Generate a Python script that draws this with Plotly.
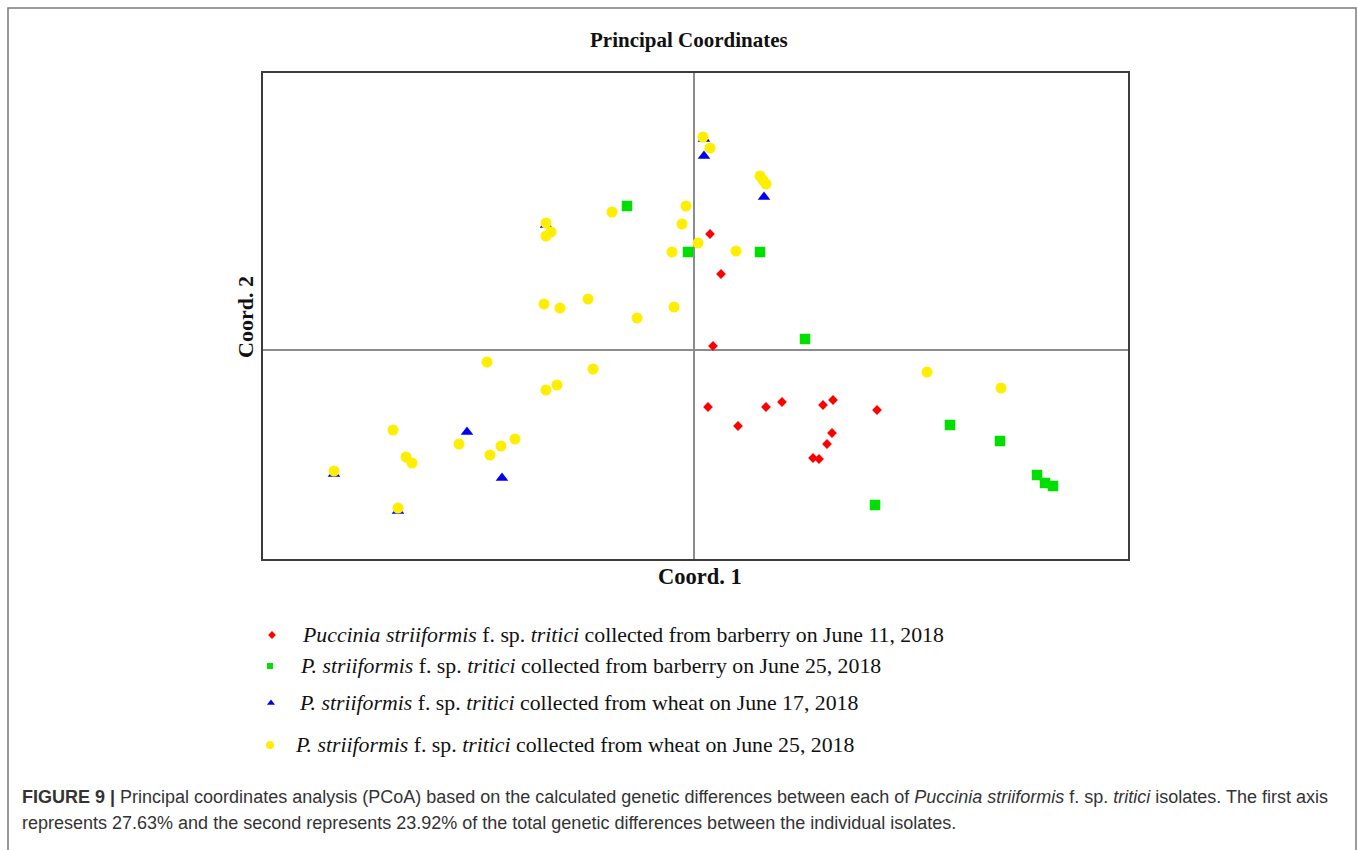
import plotly.graph_objects as go

# PCoA scores (Coord. 1, Coord. 2) for each isolate group
barberry_jun11_c1 = [0.16, 0.27, 0.19, 0.14, 0.44, 0.72, 0.88, 1.29, 1.39, 1.83, 1.38, 1.33, 1.19, 1.25]
barberry_jun11_c2 = [1.16, 0.76, 0.04, -0.57, -0.76, -0.57, -0.52, -0.55, -0.50, -0.60, -0.83, -0.94, -1.08, -1.09]

barberry_jun25_c1 = [-0.67, -0.06, 0.66, 1.11, 2.56, 3.06, 3.43, 3.51, 3.59, 1.81]
barberry_jun25_c2 = [1.44, 0.98, 0.98, 0.11, -0.75, -0.91, -1.25, -1.33, -1.36, -1.55]

wheat_jun17_c1 = [0.10, 0.70, -2.27, -1.92, 0.10, -1.48, -3.60, -2.96]
wheat_jun17_c2 = [1.94, 1.53, -0.82, -1.28, 2.11, 1.25, -1.24, -1.61]

wheat_jun25_c1 = [0.09, 0.16, -1.48, -1.43, -1.48, -0.82, -0.08, -0.12, 0.04, -0.22,
                  -1.50, -1.34, -1.06, -0.57, -0.20, 0.66, 0.69, 0.72, 0.42, -2.07,
                  -1.01, -1.48, -1.37, -3.01, -2.88, -2.82, -2.35, -2.04, -1.93, -1.79,
                  -3.60, -2.96, 2.33, 3.07]
wheat_jun25_c2 = [2.13, 2.02, 1.27, 1.18, 1.14, 1.38, 1.44, 1.26, 1.07, 0.98,
                  0.46, 0.42, 0.51, 0.32, 0.43, 1.74, 1.70, 1.66, 0.99, -0.12,
                  -0.19, -0.40, -0.35, -0.80, -1.07, -1.13, -0.94, -1.05, -0.96, -0.89,
                  -1.21, -1.58, -0.22, -0.38]

x_range = [-4.31, 4.34]
y_range = [-2.09, 2.77]

legend_labels = [
    "<i>Puccinia striiformis</i> f. sp. <i>tritici</i> collected from barberry on June 11, 2018",
    "<i>P. striiformis</i> f. sp. <i>tritici</i> collected from barberry on June 25, 2018",
    "<i>P. striiformis</i> f. sp. <i>tritici</i> collected from wheat on June 17, 2018",
    "<i>P. striiformis</i> f. sp. <i>tritici</i> collected from wheat on June 25, 2018",
]
caption_lines = [
    "<b>FIGURE 9 |</b> Principal coordinates analysis (PCoA) based on the calculated genetic differences "
    "between each of <i>Puccinia striiformis</i> f. sp. <i>tritici</i> isolates. The first axis",
    "represents 27.63% and the second represents 23.92% of the total genetic differences between the individual isolates.",
]

W, H = 1358, 850
RED, GREEN, BLUE, YELLOW = "#ff0000", "#00e000", "#0000f0", "#ffee00"
SERIF = "Liberation Serif"


def px(x):
    return x / W


def py(y):
    return 1 - y / H


fig = go.Figure()

# group markers on the main axes
fig.add_trace(go.Scatter(x=barberry_jun11_c1, y=barberry_jun11_c2, mode="markers",
                         marker=dict(symbol="diamond", size=7.5, color=RED, line_width=0),
                         showlegend=False))
fig.add_trace(go.Scatter(x=barberry_jun25_c1, y=barberry_jun25_c2, mode="markers",
                         marker=dict(symbol="square", size=10.5, color=GREEN, line_width=0),
                         showlegend=False))
fig.add_trace(go.Scatter(x=wheat_jun17_c1, y=wheat_jun17_c2, mode="markers",
                         marker=dict(symbol="triangle-up", size=11, color=BLUE, line_width=0),
                         showlegend=False))
fig.add_trace(go.Scatter(x=wheat_jun25_c1, y=wheat_jun25_c2, mode="markers",
                         marker=dict(symbol="circle", size=11, color=YELLOW, line_width=0),
                         showlegend=False))

# legend glyphs on a pixel-scaled overlay axis
legend_rows_y = [635, 666, 703, 745]
legend_glyph_x = [272, 270, 271, 270]
legend_text_x = [300, 298, 297, 293]
legend_syms = ["diamond", "square", "triangle-up", "circle"]
legend_sizes = [6, 6, 7, 8]
legend_cols = [RED, GREEN, BLUE, YELLOW]
for gx, gy, s, sz, c in zip(legend_glyph_x, legend_rows_y, legend_syms, legend_sizes, legend_cols):
    fig.add_trace(go.Scatter(x=[gx], y=[gy], xaxis="x2", yaxis="y2", mode="markers",
                             marker=dict(symbol=s, size=sz, color=c, line_width=0),
                             showlegend=False, hoverinfo="skip"))

annotations = [
    dict(text="<b>Principal Coordinates</b>", x=px(689), y=py(40), xref="paper", yref="paper",
         showarrow=False, font=dict(family=SERIF, size=21, color="#111"), xanchor="center", yanchor="middle"),
    dict(text="<b>Coord. 1</b>", x=px(700), y=py(576), xref="paper", yref="paper",
         showarrow=False, font=dict(family=SERIF, size=22.5, color="#111"), xanchor="center", yanchor="middle"),
    dict(text="<b>Coord. 2</b>", x=px(245), y=py(317), xref="paper", yref="paper", textangle=-90,
         showarrow=False, font=dict(family=SERIF, size=22, color="#111"), xanchor="center", yanchor="middle"),
]
for tx, ty, lab in zip(legend_text_x, legend_rows_y, legend_labels):
    annotations.append(dict(text=lab, x=px(tx), y=py(ty), xref="paper", yref="paper", showarrow=False,
                            font=dict(family=SERIF, size=21.8, color="#111"),
                            xanchor="left", yanchor="middle"))
for ty, line in zip([797, 823], caption_lines):
    annotations.append(dict(text=line, x=px(20), y=py(ty), xref="paper", yref="paper", showarrow=False,
                            font=dict(family="Liberation Sans", size=18, color="#333"),
                            xanchor="left", yanchor="middle"))

fig.update_layout(
    width=W, height=H, autosize=False,
    margin=dict(l=0, r=0, t=0, b=0),
    paper_bgcolor="white", plot_bgcolor="rgba(0,0,0,0)",
    xaxis=dict(domain=[px(263), px(1128)], range=x_range, showgrid=False, showticklabels=False,
               ticks="", zeroline=True, zerolinecolor="#8c8c8c", zerolinewidth=1.5,
               showline=True, mirror=True, linecolor="#3c3c3c", linewidth=2),
    yaxis=dict(domain=[py(559), py(73)], range=y_range, showgrid=False, showticklabels=False,
               ticks="", zeroline=True, zerolinecolor="#8c8c8c", zerolinewidth=1.5,
               showline=True, mirror=True, linecolor="#3c3c3c", linewidth=2),
    xaxis2=dict(domain=[0, 1], range=[0, W], visible=False, fixedrange=True),
    yaxis2=dict(domain=[0, 1], range=[H, 0], visible=False, fixedrange=True),
    annotations=annotations,
    shapes=[dict(type="rect", xref="paper", yref="paper", x0=px(8), x1=px(1356), y0=py(8), y1=py(870),
                 line=dict(color="#7a7a7a", width=1.5), layer="below")],
)

fig.write_html("out.html")
